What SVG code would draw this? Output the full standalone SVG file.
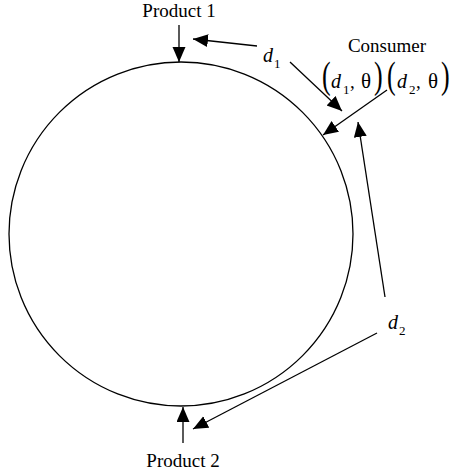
<svg xmlns="http://www.w3.org/2000/svg" width="451" height="472" viewBox="0 0 451 472">
<style>
text{font-family:"Liberation Serif","Times New Roman",serif;fill:#000}
.t{font-size:19px}
.i{font-size:20px;font-style:italic}
.s{font-size:13px}
.g{font-size:21px}
.p{font-size:26px}
.c line{stroke:#000;stroke-width:1.3;marker-end:url(#ah)}
</style>
<defs>
<marker id="ah" markerUnits="userSpaceOnUse" markerWidth="16" markerHeight="14" refX="15" refY="6.5" orient="auto" viewBox="0 0 16 14">
<path d="M0,0 L15,6.5 L0,13 z" fill="#000"/>
</marker>
</defs>
<rect width="451" height="472" fill="#fff"/>
<g id="market">
<circle cx="181" cy="234" r="172" fill="none" stroke="#000" stroke-width="1.3"/>
</g>
<g id="product1">
<text class="t" x="179" y="17" text-anchor="middle">Product 1</text>
</g>
<g id="product2">
<text class="t" x="183" y="467" text-anchor="middle">Product 2</text>
</g>
<g id="d1label">
<text class="i" x="263" y="62">d</text>
<text class="s" x="274" y="68">1</text>
</g>
<g id="d2label">
<text class="i" x="388" y="329">d</text>
<text class="s" x="399" y="335">2</text>
</g>
<g id="consumer">
<text class="t" x="387" y="52" text-anchor="middle">Consumer</text>
<text class="p" transform="translate(322,88) scale(1,1.45)">(</text>
<text class="i" x="331" y="88">d</text>
<text class="s" x="343" y="94">1</text>
<text class="t" x="350" y="88">,</text>
<text class="g" x="361" y="88">θ</text>
<text class="p" transform="translate(374,88) scale(1,1.45)">)</text>
<text class="p" transform="translate(387,88) scale(1,1.45)">(</text>
<text class="i" x="397" y="88">d</text>
<text class="s" x="409" y="94">2</text>
<text class="t" x="416" y="88">,</text>
<text class="g" x="428" y="88">θ</text>
<text class="p" transform="translate(441,88) scale(1,1.45)">)</text>
</g>
<g id="connectors" class="c">
<line x1="179" y1="25" x2="179" y2="62"/>
<line x1="257" y1="46" x2="193" y2="39"/>
<line x1="290" y1="62" x2="342" y2="111"/>
<line x1="387" y1="90" x2="323" y2="135"/>
<line x1="385" y1="297" x2="358" y2="122"/>
<line x1="377" y1="333" x2="193" y2="429"/>
<line x1="183" y1="443" x2="183" y2="407"/>
</g>
</svg>
